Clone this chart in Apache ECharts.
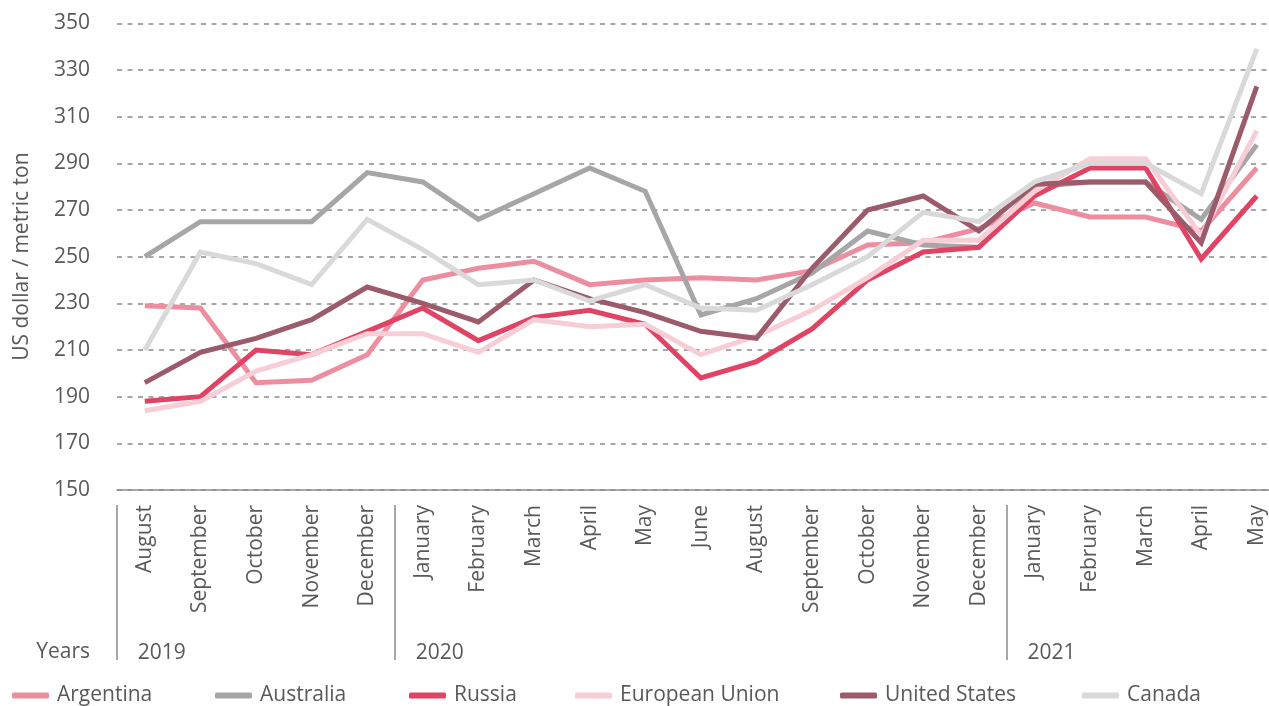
<!DOCTYPE html>
<html>
<head>
<meta charset="utf-8">
<script src="https://cdn.jsdelivr.net/npm/echarts@6/dist/echarts.min.js"></script>
<style>
html,body{margin:0;padding:0;background:#fff;overflow:hidden;width:1269px;height:706px;}
#chart{width:1290px;height:706px;}
</style>
</head>
<body>
<div id="chart"></div>
<script>
var months = ['August','September','October','November','December',
  'January','February','March','April','May','June','August','September','October','November','December',
  'January','February','March','April','May'];
var yearLabels = ['2019','','','','','2020','','','','','','','','','','','2021','','','',''];
var yearStarts = [0, 5, 16];

var argentina = [229, 228, 196, 197, 208, 240, 245, 248, 238, 240, 241, 240, 244, 255, 256, 262, 273, 267, 267, 261, 288];
var australia = [250, 265, 265, 265, 286, 282, 266, 277, 288, 278, 225, 232, 243, 261, 255, 254, 280, 282, 282, 266, 298];
var russia    = [188, 190, 210, 208, 218, 228, 214, 224, 227, 221, 198, 205, 219, 240, 252, 254, 276, 288, 288, 249, 276];
var eu        = [184, 188, 201, 208, 217, 217, 209, 223, 220, 221, 208, 216, 227, 241, 257, 257, 278, 292, 292, 259, 304];
var us        = [196, 209, 215, 223, 237, 230, 222, 240, 232, 226, 218, 215, 245, 270, 276, 261, 281, 282, 282, 256, 323];
var canada    = [210, 252, 247, 238, 266, 253, 238, 240, 231, 238, 228, 227, 238, 250, 269, 265, 282, 290, 290, 277, 339];

var seriesNames = ['Argentina','Australia','Russia','European Union','United States','Canada'];
var seriesData = [argentina, australia, russia, eu, us, canada];
var colors = ['#EC8EA0','#A6A6A6','#E04364','#F7CDD6','#9B5B6B','#D9D9D9'];
var legendLeft = [12, 215, 409, 575, 840, 1082];

var FONT = 'Open Sans';
var TXT = '#595959';
var FS = 21;

var chart = echarts.init(document.getElementById('chart'), null, {renderer:'canvas'});
var option = {
  animation: false,
  backgroundColor: '#fff',
  textStyle: {fontFamily: FONT},
  grid: {left: 117, top: 23.3, width: 1167.6, height: 466.7, containLabel: false},
  xAxis: [{
    type: 'category',
    data: months,
    boundaryGap: true,
    axisLine: {show: true, lineStyle: {color: '#8c8c8c', width: 1.5}},
    axisTick: {show: false},
    axisLabel: {rotate: 90, interval: 0, margin: 15, color: TXT, fontSize: FS, fontFamily: FONT}
  }, {
    type: 'category',
    data: yearLabels,
    position: 'bottom',
    offset: 170,
    boundaryGap: true,
    name: 'Years',
    nameLocation: 'start',
    nameGap: 27,
    nameTextStyle: {color: TXT, fontSize: FS, fontFamily: FONT, align: 'right', verticalAlign: 'bottom', lineHeight: 16},
    axisLine: {show: false},
    axisTick: {show: true, inside: true, length: 155,
      interval: function (i) { return yearStarts.indexOf(i) >= 0; },
      lineStyle: {color: '#8c8c8c', width: 1.5}},
    axisLabel: {interval: 0, margin: -7, verticalAlign: 'middle', align: 'center',
      color: TXT, fontSize: FS, fontFamily: FONT,
      formatter: function (v) { return v ? '{y|' + v + '}' : ''; },
      rich: {y: {width: 14, align: 'left', color: TXT, fontSize: FS, fontFamily: FONT}}}
  }],
  yAxis: {
    type: 'value',
    min: 150, max: 350, interval: 20,
    name: 'US dollar / metric ton',
    nameLocation: 'middle',
    nameGap: 84,
    nameRotate: 90,
    nameTextStyle: {color: TXT, fontSize: FS, fontFamily: FONT},
    axisLine: {show: false},
    axisTick: {show: false},
    axisLabel: {color: TXT, fontSize: FS, fontFamily: FONT, margin: 27},
    splitLine: {show: true, lineStyle: {color: '#8c8c8c', width: 1.5, type: [5, 5.5]}}
  },
  legend: seriesNames.map(function (n, i) {
    return {
      data: [n], left: legendLeft[i], top: 685, padding: 0,
      icon: 'roundRect', itemWidth: 37, itemHeight: 6, itemGap: 0,
      textStyle: {color: TXT, fontSize: FS, fontFamily: FONT, padding: [0,0,0,3]}
    };
  }),
  series: seriesNames.map(function (n, i) {
    return {
      name: n, type: 'line', data: seriesData[i],
      symbol: 'none', smooth: false,
      color: colors[i],
      lineStyle: {width: 5, color: colors[i], join: 'miter'},
      emphasis: {disabled: true}
    };
  })
};
chart.setOption(option);
</script>
</body>
</html>
